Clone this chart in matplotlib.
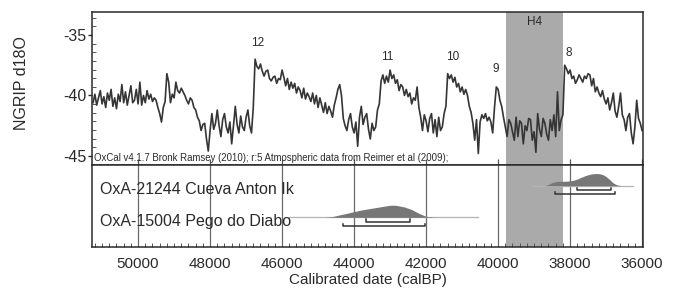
import numpy as np
import matplotlib
matplotlib.use("Agg")
import matplotlib.pyplot as plt
from matplotlib.ticker import MultipleLocator, FormatStrFormatter

plt.rcParams['font.family'] = ['Liberation Sans', 'DejaVu Sans']
plt.rcParams['axes.unicode_minus'] = False

# NGRIP d18O, every 50 yr from 51250 to 36000 calBP
year_start, year_end, year_step = 51250, 36000, 50
d18o = [
    -40.6, -39.9, -40.8, -40.2, -39.6, -40.7, -40.1, -41.0, -39.8, -40.4, -39.5, -40.9, -40.2, -41.1, -39.9, -40.5, -39.1, -40.6, -39.7, -40.8,
    -40.0, -39.2, -40.6, -40.4, -39.5, -40.7, -38.9, -40.8, -40.0, -40.6, -39.6, -40.3, -39.9, -40.5, -40.2, -40.4, -41.0, -41.5, -42.2, -41.0,
    -40.5, -38.2, -38.9, -40.6, -39.9, -40.2, -38.9, -39.6, -39.8, -39.4, -39.7, -40.0, -40.4, -40.7, -40.2, -40.4, -41.0, -41.2, -41.8, -42.1,
    -42.9, -42.4, -42.3, -43.6, -44.6, -42.9, -41.5, -42.8, -42.3, -41.2, -42.5, -43.4, -42.0, -41.5, -42.6, -43.1, -42.2, -44.0, -42.5, -40.9,
    -42.4, -43.1, -41.7, -42.6, -42.9, -41.8, -41.2, -42.5, -43.1, -41.0, -37.0, -37.6, -37.8, -37.4, -38.0, -38.4, -38.0, -37.9, -38.6, -38.8,
    -38.5, -38.4, -39.0, -38.6, -38.7, -37.9, -38.5, -39.2, -38.6, -39.5, -38.9, -39.4, -39.0, -39.8, -39.3, -39.6, -40.2, -39.4, -40.3, -39.8,
    -40.1, -40.5, -39.8, -40.7, -40.0, -41.0, -40.2, -40.8, -41.4, -40.6, -41.5, -40.9, -41.3, -41.8, -40.8, -40.2, -39.5, -39.1, -40.0, -41.9,
    -42.5, -42.9, -42.0, -41.5, -42.6, -43.1, -42.2, -44.2, -41.8, -40.9, -42.4, -41.8, -41.5, -42.8, -43.6, -42.3, -42.9, -42.6, -41.2, -40.7,
    -38.8, -38.3, -39.0, -38.4, -38.9, -37.9, -38.6, -38.3, -39.0, -38.7, -39.6, -39.1, -39.3, -40.0, -39.5, -40.1, -39.8, -40.7, -40.2, -40.4,
    -39.3, -41.0, -41.8, -42.9, -41.6, -42.1, -43.0, -41.9, -41.5, -43.1, -42.0, -43.4, -41.8, -42.9, -42.6, -41.5, -40.9, -38.2, -38.6, -38.3,
    -38.9, -38.5, -39.3, -39.0, -39.7, -39.3, -39.9, -39.5, -40.0, -40.9, -41.4, -42.3, -43.7, -42.0, -44.8, -42.2, -41.6, -41.9, -41.5, -42.1,
    -41.8, -42.2, -43.1, -41.0, -39.3, -39.5, -40.4, -40.9, -41.8, -42.6, -43.4, -42.0, -42.3, -43.0, -43.7, -41.8, -43.4, -42.1, -42.3, -44.0,
    -42.5, -42.9, -41.9, -42.0, -43.7, -43.0, -44.7, -41.5, -42.8, -43.4, -41.9, -42.3, -43.2, -43.7, -42.0, -42.9, -41.6, -43.4, -39.7, -42.9,
    -42.0, -41.6, -37.5, -37.8, -38.2, -37.9, -38.6, -38.4, -39.0, -38.7, -38.3, -38.6, -38.9, -38.4, -38.6, -38.2, -38.3, -39.2, -38.6, -39.7,
    -39.3, -39.8, -40.1, -39.6, -40.3, -40.7, -40.2, -41.2, -40.6, -39.8, -41.3, -41.8, -40.9, -39.8, -41.6, -42.0, -42.9, -41.8, -41.5, -43.1,
    -44.0, -42.6, -40.4, -41.9, -42.3, -42.9,
]
years = np.arange(year_start, year_end - 1, -year_step)

# interstadial numbers
is_labels = ['12', '11', '10', '9', '8']
is_years = [46690, 43080, 41250, 40060, 38030]
is_vals = [-35.65, -36.8, -36.8, -37.85, -36.45]

# Heinrich event 4
h4_from, h4_to = 39780, 38200

# calibrated dates
samples = ['OxA-21244 Cueva Anton Ik', 'OxA-15004 Pego do Diabo']
prob21244_years = [38700, 38600, 38500, 38400, 38300, 38200, 38100, 38000, 37900, 37800, 37700,
                   37600, 37500, 37400, 37300, 37200, 37100, 37000, 36900, 36800, 36700, 36600, 36500]
prob21244 = [0, 0.1, 0.25, 0.33, 0.36, 0.36, 0.37, 0.4, 0.45, 0.55, 0.68,
             0.8, 0.9, 0.97, 1.0, 0.99, 0.92, 0.75, 0.5, 0.22, 0.06, 0.01, 0]
prob15004_years = [44800, 44600, 44400, 44200, 44000, 43800, 43600, 43400, 43200, 43000,
                   42900, 42800, 42600, 42400, 42200, 42000, 41800, 41600]
prob15004 = [0, 0.06, 0.2, 0.33, 0.47, 0.6, 0.7, 0.8, 0.9, 0.99,
             1.0, 0.97, 0.85, 0.64, 0.33, 0.08, 0.01, 0]
span21244 = (39040, 36240)
span15004 = (45800, 40550)
r68_21244 = (37800, 36870)
r95_21244 = (38415, 36750)
r68_15004 = (43670, 42445)
r95_15004 = (44315, 42025)

fig = plt.figure(figsize=(6.8, 2.94), dpi=100)
W, H = 680, 294
ax1 = fig.add_axes([92 / W, 1 - 165 / H, 551 / W, 153 / H])
ax2 = fig.add_axes([92 / W, 1 - 247 / H, 551 / W, 82 / H])

xlim = (51280, 35975)
dark = '#2a2a2a'

# upper panel
ax1.axvspan(h4_from, h4_to, color='#aaaaaa', lw=0, zorder=0)
ax1.plot(years, d18o, color='#353535', lw=1.2)
for lab, yr, v in zip(is_labels, is_years, is_vals):
    ax1.text(yr, v, lab, ha='center', va='center', fontsize=8.5, color=dark)
ax1.text((h4_from + h4_to) / 2, -33.95, 'H4', ha='center', va='center', fontsize=8.5, color=dark)
ax1.text(0.004, 0.012, 'OxCal v4.1.7 Bronk Ramsey (2010); r:5 Atmospheric data from Reimer et al (2009);',
         transform=ax1.transAxes, ha='left', va='bottom', fontsize=6.9, color=dark)
ax1.set_xlim(xlim)
ax1.set_ylim(-45.75, -33.1)
ax1.yaxis.set_major_locator(MultipleLocator(5))
ax1.yaxis.set_minor_locator(MultipleLocator(5 / 7))
ax1.xaxis.set_major_locator(MultipleLocator(2000))
ax1.tick_params(axis='y', which='major', direction='out', length=3, width=1, pad=1,
                labelsize=11.5, colors=dark)
ax1.tick_params(axis='y', which='minor', direction='in', length=3, width=0.7, color='#555')
ax1.tick_params(axis='x', which='major', direction='in', length=4, width=0.9, labelbottom=False, color='#555')
for s in ax1.spines.values():
    s.set_color(dark)
    s.set_linewidth(1.1)

# lower panel
ax2.axvspan(h4_from, h4_to, color='#aaaaaa', lw=0, zorder=0)
ax2.set_xlim(xlim)
ax2.set_ylim(0, 1)
ax2.xaxis.set_major_locator(MultipleLocator(2000))
ax2.xaxis.set_minor_locator(MultipleLocator(200))
ax2.xaxis.set_major_formatter(FormatStrFormatter('%d'))
ax2.grid(axis='x', which='major', color='#6a6a6a', lw=0.9, zorder=0.5)
ax2.tick_params(axis='x', which='major', direction='in', length=0, pad=7.5, labelsize=11, colors=dark)
ax2.tick_params(axis='x', which='minor', direction='in', length=3, width=0.7, color='#555')
ax2.set_yticks([])
for s in ax2.spines.values():
    s.set_color(dark)
    s.set_linewidth(1.1)

dists = [
    (prob21244_years, prob21244, span21244, r68_21244, r95_21244, 0.748, 0.707, 0.695, 0.643),
    (prob15004_years, prob15004, span15004, r68_15004, r95_15004, 0.362, 0.317, 0.309, 0.256),
]
peak_h = 0.148
for name, (py, pv, span, r68, r95, base, ylab, y68, y95) in zip(samples, dists):
    ax2.plot(span, [base, base], color='#b4b4b4', lw=0.9, zorder=2)
    ax2.fill_between(py, base, base + peak_h * np.array(pv), color='#777777', lw=0, zorder=3)
    for (x0, x1), yb in ((r68, y68), (r95, y95)):
        ax2.plot([x0, x0, x1, x1], [yb + 0.03, yb, yb, yb + 0.03], color='#333333', lw=1.1, zorder=4)
    ax2.text(51060, ylab, name, ha='left', va='center', fontsize=11.5, color=dark, zorder=5)

fig.text(367.5 / W, 1 - 280 / H, 'Calibrated date (calBP)', ha='center', va='center', fontsize=11, color=dark)
fig.text(22 / W, 1 - 83 / H, 'NGRIP d18O', ha='center', va='center', rotation=90, fontsize=11.5, color=dark)

fig.savefig('out.png', dpi=100)
